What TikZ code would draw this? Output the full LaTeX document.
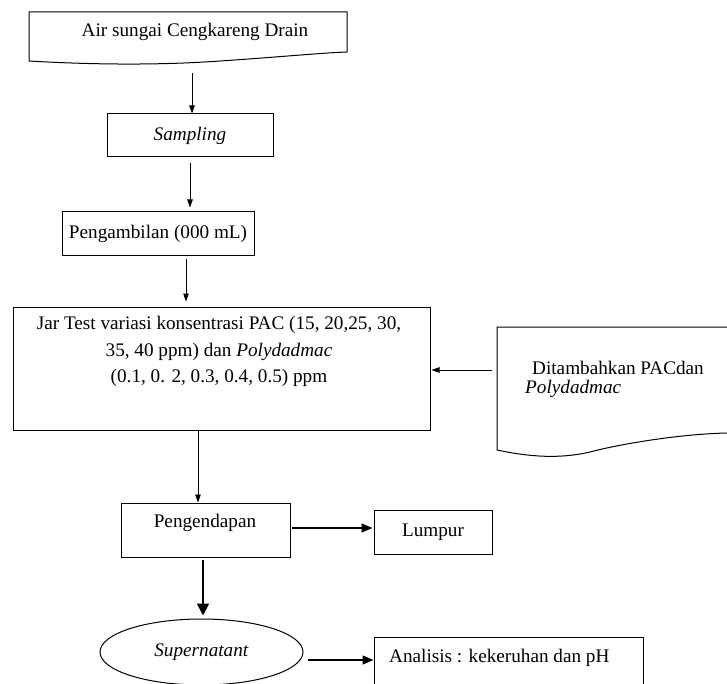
\documentclass[tikz,border=0pt]{standalone}
\usepackage{fontspec}
\setmainfont{Liberation Serif}
\usetikzlibrary{arrows.meta,shapes.geometric}
\begin{document}
\begin{tikzpicture}[x=1pt,y=-1pt,font=\fontsize{19.2}{22}\selectfont,
  box/.style={draw,line width=1pt,rectangle,inner sep=0pt},
  txt/.style={inner sep=0pt},
  arr/.style={-{Triangle[length=8pt,width=5.5pt]},line width=0.8pt},
  marr/.style={-{Triangle[length=11pt,width=9pt]},line width=1.3pt},
  thk/.style={-{Triangle[length=12pt,width=12pt]},line width=1.8pt}]
\useasboundingbox (0,0) rectangle (727,684);
\clip (0,0) rectangle (727,684);
% top document shape
\draw[line width=1pt] (29,61) .. controls (80,64) and (150,66) .. (220,61)
  .. controls (280,57) and (320,53) .. (347,52) -- (347,12) -- (29,12) -- cycle;
\node[txt] (src) at (195,32) {Air sungai Cengkareng Drain};
\coordinate (d1) at (192,73);
% sampling
\node[box,minimum width=166pt,minimum height=43pt] (samp) at (190,135.5) {\textit{Sampling}};
% pengambilan
\node[box,minimum width=192pt,minimum height=44pt] (amb) at (158,234) {Pengambilan (000 mL)};
\coordinate (a3) at (186,259);
% jar test
\node[box,minimum width=417pt,minimum height=123pt] (jar) at (221.5,368.5) {};
\node[txt,align=center,font=\fontsize{19.2}{26.5}\selectfont] (jartext) at (219,351.5)
  {Jar Test variasi konsentrasi PAC (15, 20,25, 30,\\ 35, 40 ppm) dan \textit{Polydadmac}\\ (0.1, 0. 2, 0.3, 0.4, 0.5) ppm};
% right document shape
\draw[line width=1pt] (497,450) -- (497,327) -- (740,327) -- (740,432)
  -- (727,433) .. controls (680,434) and (620,444) .. (590,452)
  .. controls (560,459) and (530,457) .. (497,450) -- cycle;
\node[txt,anchor=north west,align=left,font=\fontsize{19.2}{19}\selectfont] (add) at (525,361)
  {\hspace*{7pt}Ditambahkan PACdan\\\textit{Polydadmac}};
\coordinate (d2) at (492,370);
% pengendapan
\node[box,minimum width=169pt,minimum height=54pt] (pend) at (205.5,530) {};
\node[txt] (pendtext) at (205,523) {Pengendapan};
\coordinate (c4) at (198,430);
\coordinate (c5) at (292,528);
% lumpur
\node[box,minimum width=118pt,minimum height=44pt] (lump) at (433,532) {Lumpur};
% supernatant
\node[draw,ellipse,line width=1pt,minimum width=203pt,minimum height=66pt,inner sep=0pt] (sup) at (201.5,652) {\textit{Supernatant}};
\coordinate (c6) at (203,560);
\coordinate (c7) at (308,660);
% analisis
\node[box,minimum width=269pt,minimum height=70pt] (ana) at (508.5,672) {};
\node[txt,anchor=west] (anatext) at (389,658) {Analisis : kekeruhan dan pH};
% connectors
\draw[arr] (d1) -- (d1 |- samp.north);
\draw[arr,shorten <=6pt,shorten >=4pt] (samp.south) -- (samp.south |- amb.north);
\draw[arr,shorten >=5pt] (a3) -- (a3 |- jar.north);
\draw[arr,shorten >=1pt] (d2) -- (d2 -| jar.east);
\draw[arr] (c4) -- (c4 |- pend.north);
\draw[marr,shorten >=1pt] (c5) -- (c5 -| lump.west);
\draw[thk,shorten >=3pt] (c6) -- (c6 |- sup.north);
\draw[marr] (c7) -- (c7 -| ana.west);
\end{tikzpicture}
\end{document}
